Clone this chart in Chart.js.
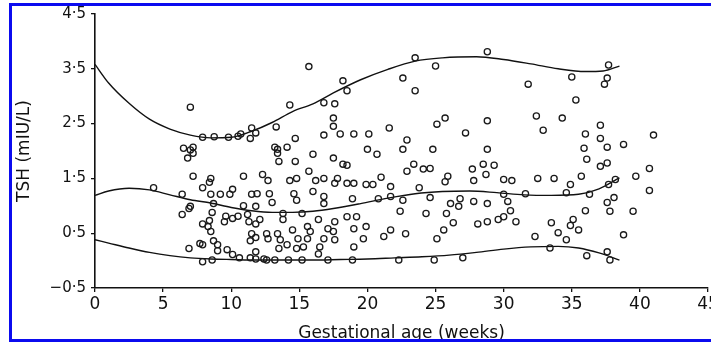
<!DOCTYPE html>
<html>
<head>
<meta charset="utf-8">
<script src="https://cdn.jsdelivr.net/npm/chart.js@4"></script>
<style>
  html, body { margin: 0; padding: 0; background: #fff; overflow: hidden; }
  #wrap { position: relative; width: 711px; height: 345px; overflow: hidden; }
  #wrap canvas { position: absolute; left: 0; top: 0; }
  #frame { position: absolute; left: 9px; top: 3px; width: 760px; height: 339px; box-sizing: border-box; border: 3px solid #0b0bef; pointer-events: none; }
</style>
</head>
<body>
<div id="wrap">
  <canvas id="tshChart" width="740" height="345"></canvas>
  <div id="frame"></div>
</div>
<script>
// axis ticks
const weekTicks = [0, 5, 10, 15, 20, 25, 30, 35, 40, 45];
const tshTicks = [-0.5, 0.5, 1.5, 2.5, 3.5, 4.5];

// fitted curves as [week, TSH]
const upperCurve = [[0,3.58],[1,3.24],[2.5,2.87],[4,2.58],[5.5,2.4],[7,2.29],[8.5,2.24],[10,2.25],[11.5,2.36],[13,2.52],[14.5,2.72],[16,2.86],[17.5,3.06],[19.5,3.3],[21.5,3.49],[23.5,3.64],[25.5,3.7],[28,3.72],[30,3.67],[32,3.59],[34,3.5],[36,3.45],[37.3,3.46],[38.5,3.55]];
const middleCurve = [[0,1.19],[1,1.27],[2.5,1.32],[4,1.29],[5.5,1.2],[7,1.11],[8.5,1.05],[10,0.97],[11.5,0.91],[13,0.88],[14.5,0.88],[16,0.9],[17.5,0.95],[19.5,1.04],[21.5,1.14],[23.5,1.22],[25.5,1.26],[27.5,1.27],[29.5,1.24],[31.5,1.2],[33.5,1.19],[35.5,1.21],[37,1.31],[38.5,1.51]];
const lowerCurve = [[0,0.38],[1,0.32],[2.5,0.23],[4,0.15],[5.5,0.09],[7,0.05],[8.5,0.03],[10,0.02],[12,0.01],[14,0.01],[16,0.01],[18,0.02],[20,0.03],[22,0.05],[24,0.07],[26,0.1],[28,0.15],[30,0.21],[32,0.25],[34,0.26],[35.5,0.23],[37,0.14],[38.5,0.01]];

// individual measurements [week, TSH]
const samples = [
  [7.0,2.80],[15.7,3.54],[14.3,2.84],[13.3,2.44],[16.8,2.88],[16.8,2.29],[14.7,2.23],
  [7.9,2.25],[8.75,2.26],[9.8,2.25],[10.5,2.27],[11.4,2.23],[10.7,2.31],[11.8,2.33],[11.5,2.42],
  [6.5,2.05],[7.2,2.07],[13.2,2.07],[14.1,2.07],[7.0,2.02],[7.2,1.96],[6.8,1.87],[13.4,2.03],
  [18.2,3.28],[18.5,3.10],[17.6,2.86],[22.6,3.33],[23.5,3.10],[23.5,3.70],[25.0,3.55],[28.8,3.81],
  [17.5,2.60],[17.5,2.45],[18.0,2.31],[19.0,2.31],[20.1,2.31],[21.6,2.42],[22.9,2.20],[25.1,2.49],[25.7,2.60],[27.2,2.33],[28.8,2.55],
  [20.0,2.03],[22.6,2.03],[24.8,2.03],[28.8,2.03],
  [35.0,3.35],[37.4,3.22],[37.6,3.33],[37.7,3.57],[31.8,3.22],[35.3,2.93],[32.4,2.64],[34.3,2.60],[32.9,2.38],[37.1,2.47],[36.0,2.31],[37.1,2.23],[41.0,2.29],[38.8,2.12],[37.6,2.07],[35.9,2.05],
  [13.4,1.96],[13.5,1.81],[14.7,1.81],[16.0,1.94],[7.2,1.54],[8.5,1.50],[8.4,1.43],[10.9,1.54],[12.3,1.57],[12.7,1.46],[14.3,1.46],[14.8,1.50],[15.7,1.63],[16.2,1.46],[16.8,1.50],
  [4.3,1.33],[6.4,1.21],[6.9,0.95],[6.4,0.84],[7.9,1.33],[8.5,1.21],[8.7,1.04],[8.6,0.88],[9.2,1.21],[9.9,1.21],[10.1,1.30],[11.5,1.21],[11.9,1.22],[12.8,1.22],[13.0,1.06],[11.8,0.99],[10.9,1.00],[14.6,1.22],[14.8,1.10],[16.0,1.26],[16.8,1.17],[16.8,1.04],
  [9.6,0.81],[10.1,0.77],[10.5,0.81],[9.5,0.71],[11.2,0.84],[11.3,0.71],[11.8,0.67],[12.1,0.75],[13.8,0.86],[13.8,0.75],[15.2,0.86],[15.6,0.62],[16.4,0.75],[17.1,0.58],[8.3,0.62],[8.5,0.53],[8.4,0.73],
  [6.9,0.22],[7.9,0.29],[8.7,0.36],[9.0,0.29],[9.0,0.18],[9.7,0.20],[10.1,0.11],[10.6,0.05],[7.9,-0.02],[8.6,0.01],[11.4,0.05],[11.8,0.16],[11.5,0.49],[11.8,0.42],[12.6,0.49],[12.7,0.40],[13.4,0.49],[13.6,0.38],[13.5,0.22],[14.1,0.29],[14.5,0.56],[14.9,0.40],[14.8,0.22],[15.3,0.25],[15.6,0.40],[15.8,0.53],[16.5,0.25],[16.4,0.12],[12.4,0.03],[12.6,0.01],[13.2,0.01],[14.2,0.01],[15.2,0.01],[17.1,0.01],[11.8,0.03],[11.4,0.36],[16.8,0.40],
  [7.0,0.99],[7.9,0.67],[7.7,0.31],
  [17.6,1.41],[18.5,1.41],[19.0,1.41],[19.9,1.39],[20.4,1.39],[21.7,1.35],[23.8,1.33],[25.7,1.44],[27.8,1.46],[30.0,1.48],[22.9,1.63],[23.4,1.76],[24.1,1.67],[24.6,1.68],[27.7,1.67],[28.5,1.76],[29.3,1.74],[28.7,1.57],[18.2,1.76],[17.5,1.87],
  [17.8,1.50],[18.5,1.74],[20.7,1.94],[25.9,1.54],[21.0,1.52],
  [18.9,1.13],[20.8,1.13],[21.7,1.17],[22.6,1.10],[24.6,1.15],[26.1,1.04],[26.8,1.13],[27.8,1.08],[28.8,1.04],[30.3,1.08],[26.7,0.99],[22.4,0.90],[24.3,0.86],[25.8,0.86],[26.3,0.69],[28.1,0.67],[28.8,0.71],[29.6,0.75],[30.0,0.80],[17.6,0.71],[18.5,0.80],[19.2,0.80],[19.0,0.58],[19.9,0.62],[19.7,0.40],[21.2,0.44],[21.7,0.56],[22.8,0.49],[25.1,0.40],[25.6,0.56],[19.0,0.25],[17.5,0.53],[17.6,0.38],
  [18.9,0.01],[22.3,0.01],[24.9,0.01],[27.0,0.05],
  [36.1,1.85],[37.1,1.72],[37.6,1.78],[40.7,1.68],[39.7,1.54],[40.7,1.28],[30.6,1.46],[32.5,1.50],[33.7,1.50],[35.7,1.54],[34.9,1.39],[31.6,1.22],[34.6,1.24],[36.3,1.21],[37.7,1.39],[38.2,1.48],[30.0,1.21],[37.6,1.06],[38.1,1.15],[36.0,0.91],[37.8,0.90],[39.5,0.90],[30.5,0.91],[30.9,0.71],[33.5,0.69],[35.1,0.75],[34.9,0.64],[35.5,0.56],[34.0,0.51],[32.3,0.44],[34.6,0.38],[38.8,0.47],[33.4,0.23],[36.1,0.09],[37.6,0.16],[37.8,0.01]
];

const toXY = arr => arr.map(p => ({ x: p[0], y: p[1] }));

const curveSet = (pts) => ({
  data: toXY(pts),
  showLine: true,
  pointRadius: 0,
  borderColor: '#111',
  borderWidth: 1.4,
  cubicInterpolationMode: 'monotone',
  fill: false
});

const axisStyle = {
  grid: { drawOnChartArea: false, drawTicks: true, tickLength: 4, color: '#111', lineWidth: 1.3 },
  border: { display: true, color: '#111', width: 1.6 }
};

const ctx = document.getElementById('tshChart').getContext('2d');
new Chart(ctx, {
  type: 'scatter',
  data: {
    datasets: [
      {
        data: toXY(samples),
        pointStyle: 'circle',
        pointRadius: 3.1,
        borderWidth: 1.3,
        borderColor: '#1a1a1a',
        backgroundColor: 'rgba(255,255,255,0)'
      },
      curveSet(upperCurve),
      curveSet(middleCurve),
      curveSet(lowerCurve)
    ]
  },
  options: {
    responsive: false,
    animation: false,
    devicePixelRatio: 1,
    layout: { padding: { top: 14, right: 32, left: 0, bottom: 0 } },
    plugins: { legend: { display: false }, tooltip: { enabled: false } },
    scales: {
      x: {
        type: 'linear',
        min: 0,
        max: 45,
        ...axisStyle,
        afterBuildTicks: s => { s.ticks = weekTicks.map(v => ({ value: v })); },
        afterFit: s => { s.height = 57; },
        ticks: {
          color: '#111',
          padding: 2,
          maxRotation: 0,
          font: { family: 'DejaVu Sans', size: 17 },
          callback: v => String(v)
        },
        title: {
          display: true,
          text: 'Gestational age (weeks)',
          color: '#111',
          font: { family: 'DejaVu Sans', size: 17 },
          padding: { top: 0, bottom: 1 }
        }
      },
      y: {
        type: 'linear',
        min: -0.5,
        max: 4.5,
        ...axisStyle,
        afterBuildTicks: s => { s.ticks = tshTicks.map(v => ({ value: v })); },
        afterFit: s => { s.width = 95; },
        ticks: {
          color: '#111',
          padding: 5,
          font: { family: 'DejaVu Sans', size: 15 },
          callback: v => v.toFixed(1).replace('.', '·').replace('-', '−')
        },
        title: {
          display: true,
          text: 'TSH (mIU/L)',
          color: '#111',
          font: { family: 'DejaVu Sans', size: 17 },
          padding: { top: 14, bottom: 0 }
        }
      }
    }
  }
});
</script>
</body>
</html>
